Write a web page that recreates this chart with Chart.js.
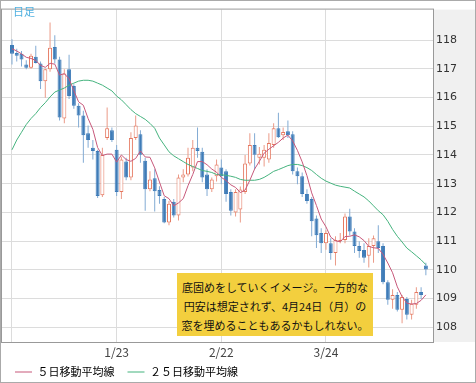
<!DOCTYPE html>
<html>
<head>
<meta charset="utf-8">
<script src="https://cdn.jsdelivr.net/npm/chart.js@4.4.0/dist/chart.umd.min.js"></script>
<style>
  html, body { margin: 0; padding: 0; background: #fff; }
  #wrap { position: relative; width: 476px; height: 383px; }
  #tag { position: absolute; left: 13px; top: 3px; font: 11px "Noto Sans CJK JP"; color: #4fb0e0; }
  #note { position: absolute; left: 177px; top: 273px; width: 196px; height: 63px; box-sizing: border-box; padding-top: 5px;
          background: #f3cf3e; color: #111; text-align: center; font: 11px/19px "Noto Sans CJK JP"; white-space: nowrap; }
</style>
</head>
<body>
<div id="wrap">
  <canvas id="chart" width="476" height="383"></canvas>
  <div id="tag">日足</div>
  <div id="note">底固めをしていくイメージ。一方的な<br>円安は想定されず、4月24日（月）の<br>窓を埋めることもあるかもしれない。</div>
</div>
<script>
// daily candles, 12/22 .. 4/24
var opens  = [117.83,117.55,117.52,117.15,117.04,117.42,117.18,116.57,116.98,117.76,
              117.32,115.27,116.98,116.40,115.71,115.37,114.76,114.25,114.14,112.60,
              114.59,114.86,114.18,112.71,113.77,113.22,114.59,114.72,113.80,112.81,
              113.19,112.78,112.47,111.65,112.37,111.89,113.22,113.32,113.56,114.25,
              114.11,113.32,112.81,113.26,113.56,113.43,112.71,112.00,112.10,112.71,
              113.70,114.35,113.90,113.90,113.84,114.35,114.93,114.69,114.83,114.72,
              113.43,113.26,112.64,112.47,111.79,111.28,110.93,110.93,110.59,111.00,
              111.04,111.86,111.34,110.83,110.69,110.49,110.83,111.00,110.83,109.57,
              108.96,109.13,108.61,108.99,108.44,108.79,109.23,110.15];
var highs  = [118.03,117.70,117.62,117.30,117.52,117.80,117.25,117.00,118.61,118.17,
              117.42,116.98,117.49,116.46,115.80,115.54,115.03,114.52,114.18,114.25,
              115.65,114.96,114.35,113.94,113.90,114.79,115.37,114.86,113.90,113.43,
              113.50,112.91,112.54,112.40,112.47,113.32,113.50,114.25,114.52,114.96,
              114.25,113.50,113.22,113.84,113.84,113.50,112.81,112.81,112.90,114.00,
              114.76,114.76,114.28,114.35,114.76,115.10,115.47,114.96,115.20,114.83,
              113.56,113.39,112.81,112.54,111.89,111.45,111.38,111.10,111.17,111.28,
              111.96,112.13,111.45,111.00,110.93,111.10,111.20,111.55,110.93,109.64,
              109.33,109.23,109.13,109.06,108.96,109.40,109.40,110.25];
var lows   = [117.15,117.25,117.08,116.98,117.00,117.18,116.30,115.99,116.90,117.18,
              115.20,115.10,115.95,115.61,114.96,113.73,114.25,113.84,112.50,112.54,
              114.52,114.45,112.57,112.47,113.12,113.12,114.52,113.73,112.06,112.74,
              112.03,112.30,111.62,111.55,111.82,111.72,113.05,113.25,113.43,113.90,
              113.05,112.57,112.71,113.08,112.98,112.37,111.89,111.86,111.65,112.64,
              113.63,113.50,113.67,113.60,113.73,114.25,114.59,114.52,114.59,113.32,
              112.98,112.54,112.30,111.17,110.76,110.59,110.70,110.35,110.15,110.93,
              110.93,111.20,110.59,110.42,110.25,110.08,110.25,110.59,109.50,108.79,
              108.65,108.55,108.14,108.27,108.27,108.65,108.99,109.81];
var closes = [117.52,117.45,117.32,117.04,117.45,117.20,116.57,116.98,117.73,117.32,
              115.30,116.84,116.05,115.71,115.37,114.69,114.52,114.14,112.57,114.00,
              114.93,114.52,112.71,113.84,113.22,114.59,115.03,114.01,112.81,113.15,
              112.74,112.57,111.65,112.30,111.89,113.22,113.32,113.90,114.25,114.14,
              113.22,112.81,113.15,113.67,113.26,112.64,112.06,112.71,112.80,113.70,
              114.35,114.01,114.04,114.18,114.42,114.93,114.62,114.80,114.69,113.43,
              113.26,112.64,112.40,111.69,111.21,110.93,111.28,110.59,111.04,111.04,
              111.86,111.34,110.83,110.66,110.42,110.83,111.10,110.76,109.57,108.96,
              109.13,108.61,109.06,108.44,108.82,109.23,109.13,110.01];

var ma5  = [117.70,117.62,117.52,117.40,117.36,117.29,117.12,117.05,117.19,117.16,
            116.78,116.83,116.65,116.24,115.85,115.73,115.27,114.89,114.26,113.98,
            114.03,114.03,113.75,114.00,113.84,113.78,113.88,114.14,113.93,113.92,
            113.55,113.06,112.58,112.48,112.23,112.33,112.48,112.93,113.32,113.77,
            113.77,113.66,113.51,113.40,113.22,113.11,112.96,112.87,112.69,112.78,
            113.12,113.51,113.78,114.06,114.20,114.32,114.44,114.59,114.69,114.49,
            114.16,113.76,113.28,112.68,112.24,111.77,111.50,111.14,111.01,110.98,
            111.16,111.17,111.22,111.15,111.02,110.82,110.77,110.75,110.54,110.24,
            109.90,109.41,109.07,108.84,108.81,108.83,108.94,109.13];
var ma25 = [114.18,114.52,114.79,115.06,115.27,115.44,115.65,115.82,116.02,116.19,
            116.26,116.33,116.43,116.50,116.57,116.60,116.60,116.57,116.50,116.43,
            116.33,116.23,116.05,115.92,115.75,115.58,115.44,115.34,115.24,115.10,
            114.93,114.59,114.35,114.11,113.97,113.87,113.77,113.67,113.60,113.53,
            113.46,113.43,113.39,113.32,113.31,113.29,113.26,113.22,113.15,113.12,
            113.12,113.12,113.15,113.22,113.32,113.43,113.49,113.56,113.63,113.67,
            113.67,113.63,113.56,113.46,113.32,113.19,113.09,113.02,112.95,112.91,
            112.88,112.85,112.74,112.64,112.54,112.40,112.23,112.06,111.92,111.69,
            111.41,111.17,110.97,110.76,110.63,110.49,110.35,110.18];

var tickPos = [0, 22, 44, 66];
var tickLabels = ['', '1/23', '2/22', '3/24'];
var yTicks = [108, 109, 110, 111, 112, 113, 114, 115, 116, 117, 118];
var legendNames = ['５日移動平均線', '２５日移動平均線'];

var upLine = '#e5775f', upWick = '#eb9a87';
var downFill = '#3f7cb8', downWick = '#82abd4';
var ma5Color = '#c7587a', ma25Color = '#45b37e';

function isUp(i) { return closes[i] >= opens[i]; }

var frame = {
  id: 'frame',
  afterLayout: function(chart) {
    // legend sits a little higher than the layout puts it
    var lg = chart.legend, h = lg.bottom - lg.top;
    lg.top = 353.5;
    lg.bottom = lg.top + h;
  },
  beforeDraw: function(chart) {
    var c = chart.ctx, a = chart.chartArea;
    c.save();
    c.fillStyle = '#f0f0f0';
    c.fillRect(a.right, a.top, chart.width - a.right, a.bottom - a.top);
    c.restore();
  },
  afterDraw: function(chart) {
    var c = chart.ctx, a = chart.chartArea;
    c.save();
    c.lineWidth = 1;
    c.strokeStyle = '#999';
    c.strokeRect(a.left - 0.5, a.top - 0.5, a.right - a.left + 1, a.bottom - a.top + 1);
    c.strokeStyle = '#aaa';
    c.strokeRect(0.5, 0.5, chart.width - 1, chart.height - 1);
    c.restore();
  }
};

var ctx = document.getElementById('chart').getContext('2d');
var myChart = new Chart(ctx, {
  type: 'bar',
  data: {
    datasets: [{
      type: 'line',
      label: legendNames[0],
      data: ma5.map(function(v, i) { return {x: i, y: v}; }),
      borderColor: ma5Color,
      borderWidth: 1,
      pointRadius: 0,
      tension: 0
    }, {
      type: 'line',
      label: legendNames[1],
      data: ma25.map(function(v, i) { return {x: i, y: v}; }),
      borderColor: ma25Color,
      borderWidth: 1,
      pointRadius: 0,
      tension: 0
    }, {
      label: 'body',
      data: opens.map(function(o, i) { return {x: i, y: [o, closes[i]]}; }),
      backgroundColor: opens.map(function(o, i) { return isUp(i) ? '#fff' : downFill; }),
      borderColor: opens.map(function(o, i) { return isUp(i) ? upLine : downFill; }),
      borderWidth: 1,
      borderSkipped: false,
      barThickness: 4,
      grouped: false,
      inflateAmount: 0
    }, {
      label: 'wick',
      data: lows.map(function(l, i) { return {x: i, y: [l, highs[i]]}; }),
      backgroundColor: lows.map(function(l, i) { return isUp(i) ? upWick : downWick; }),
      borderWidth: 0,
      barThickness: 1,
      grouped: false,
      inflateAmount: 0
    }]
  },
  options: {
    responsive: false,
    animation: false,
    layout: { padding: { left: 2, top: 2, right: 0, bottom: -13 } },
    scales: {
      x: {
        type: 'linear',
        min: -2.1,
        max: 88.5,
        offset: false,
        afterBuildTicks: function(s) { s.ticks = tickPos.map(function(v) { return {value: v}; }); },
        afterFit: function(s) { s.height = 20; },
        ticks: {
          callback: function(v) { var k = tickPos.indexOf(v); return k < 0 ? '' : tickLabels[k]; },
          maxRotation: 0,
          autoSkip: false,
          padding: 3,
          color: '#444',
          font: { family: 'Noto Sans CJK JP', size: 12 }
        },
        grid: { color: '#dcdcdc', drawTicks: false, offset: false },
        border: { display: false }
      },
      y: {
        position: 'right',
        min: 107.49,
        max: 119.06,
        afterBuildTicks: function(s) { s.ticks = yTicks.map(function(v) { return {value: v}; }); },
        afterFit: function(s) { s.width = 43; },
        ticks: {
          padding: 3,
          color: '#333',
          font: { family: 'DejaVu Sans', size: 11 }
        },
        grid: { color: '#dcdcdc', drawTicks: false },
        border: { display: false }
      }
    },
    plugins: {
      tooltip: { enabled: false },
      legend: {
        position: 'bottom',
        align: 'start',
        labels: {
          boxWidth: 17,
          boxHeight: 1,
          padding: 13,
          color: '#333',
          font: { family: 'Noto Sans CJK JP', size: 11 },
          generateLabels: function(chart) {
            return [
              { text: legendNames[0], fillStyle: ma5Color, strokeStyle: ma5Color, lineWidth: 0, datasetIndex: 0 },
              { text: legendNames[1], fillStyle: ma25Color, strokeStyle: ma25Color, lineWidth: 0, datasetIndex: 1 }
            ];
          }
        }
      }
    }
  },
  plugins: [frame]
});
</script>
</body>
</html>
